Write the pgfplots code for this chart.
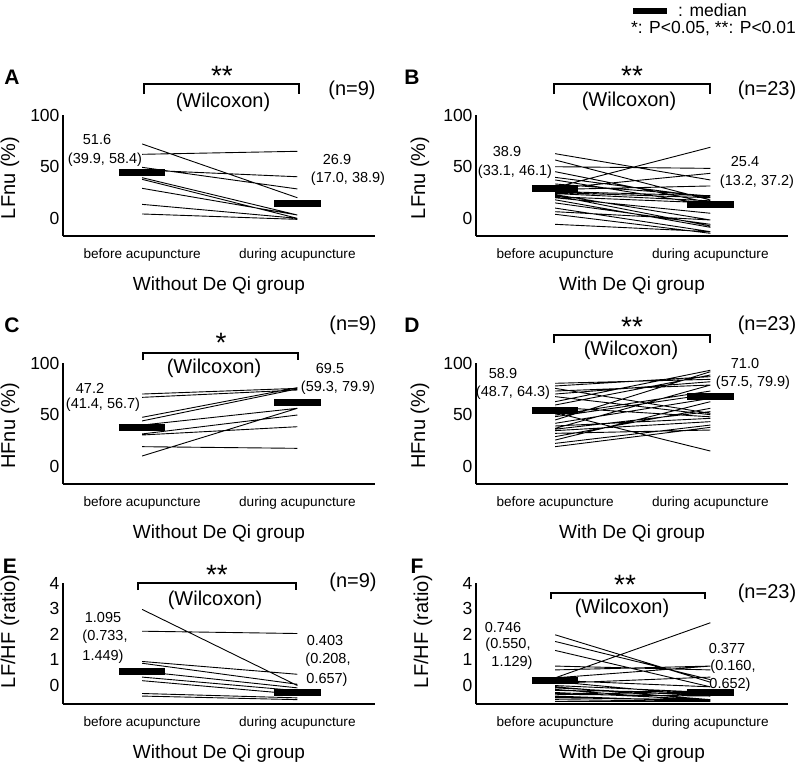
\documentclass[border=0pt]{standalone}
\usepackage{fontspec}
\setmainfont{Liberation Sans}
\usepackage{pgfplots}
\pgfplotsset{compat=1.18}
\newcommand{\fs}[1]{\fontsize{#1}{#1}\selectfont}
\pgfplotsset{
  panel/.style={
    scale only axis, width=312pt, height=121pt,
    xmin=0.49, xmax=2.5,
    axis x line=bottom, axis y line=left,
    axis line style={-, line width=2.6pt},
    major tick length=0pt,
    xtick={1,2}, xticklabels={before acupuncture, during acupuncture},
    xticklabel style={font=\fs{13.6}, anchor=base, yshift=-22pt},
    yticklabel style={font=\fs{17.5}},
    /pgf/number format/assume math mode=true,
    clip=false,
    unbounded coords=jump,
    every axis x label/.style={at={(axis description cs:0.5,0)}, anchor=base, yshift=-54pt, font=\fs{19}},
    every axis y label/.style={at={(axis description cs:-0.17,0.48)}, rotate=90, anchor=center, font=\fs{20}},
  },
  pct/.style={ymin=-17, ymax=100, ytick={0,50,100}},
  rat/.style={ymin=-0.72, ymax=4, ytick={0,1,2,3,4},
    every axis y label/.style={at={(axis description cs:-0.17,0.6)}, rotate=90, anchor=center, font=\fs{20}}},
  subj/.style={black, line width=0.9pt},
  med/.style={black, line width=7pt},
}
\tikzset{
  ann/.style={font=\fs{14.5}, anchor=center, inner sep=0pt},
  hd/.style={font=\fs{20}, anchor=center, inner sep=0pt},
  star/.style={font=\fs{28}, anchor=base, inner sep=0pt},
  letter/.style={font=\fs{21}\bfseries, anchor=center, inner sep=0pt},
  brk/.style={line width=2.4pt},
}
\begin{document}
\begin{tikzpicture}
\path[use as bounding box] (0,0) rectangle (800pt,-764pt);

% legend
\draw[line width=6pt] (633pt,-11pt) -- (667pt,-11pt);
\node[font=\fs{17.5}, anchor=west, inner sep=0pt] at (678pt,-10pt) {: median};
\node[font=\fs{17.5}, anchor=east, inner sep=0pt] at (796pt,-29pt) {*: P<0.05, **: P<0.01};

% ---------- A ----------
\begin{axis}[panel, pct, at={(63pt,-236pt)}, anchor=south west,
  xlabel={Without De Qi group}, ylabel={LFnu (\%)}]
\addplot[subj] coordinates {
(1,72.0) (2,20.0) (1.5,nan)
(1,62.0) (2,64.9) (1.5,nan)
(1,49.4) (2,28.5) (1.5,nan)
(1,46.8) (2,40.3) (1.5,nan)
(1,39.4) (2,3.3) (1.5,nan)
(1,37.8) (2,0.1) (1.5,nan)
(1,29.1) (2,3.3) (1.5,nan)
(1,13.6) (2,0.1) (1.5,nan)
(1,4.3) (2,-0.9)
};
\addplot[med] coordinates {(0.85,44.2) (1.15,44.2) (1.5,nan) (1.85,14.6) (2.15,14.6)};
\end{axis}
\node[letter] at (12pt,-77pt) {A};
\node[star] at (222pt,-85pt) {**};
\draw[brk] (144pt,-94pt) -- (144pt,-84pt) -- (299pt,-84pt) -- (299pt,-94pt);
\node[hd] at (223pt,-102pt) {(Wilcoxon)};
\node[hd] at (352pt,-90pt) {(n=9)};
\node[ann] at (97pt,-140pt) {51.6};
\node[ann] at (105pt,-160pt) {(39.9, 58.4)};
\node[ann] at (337pt,-160pt) {26.9};
\node[ann] at (348pt,-179pt) {(17.0, 38.9)};

% ---------- B ----------
\begin{axis}[panel, pct, at={(476pt,-236pt)}, anchor=south west,
  xlabel={With De Qi group}, ylabel={LFnu (\%)},
  every axis y label/.style={at={(axis description cs:-0.18,0.48)}, rotate=90, anchor=center, font=\fs{20}}]
\addplot[subj] coordinates {
(1,62.6) (2,37.2) (1.5,nan)
(1,56.5) (2,17.8) (1.5,nan)
(1,50.0) (2,48.4) (1.5,nan)
(1,45.2) (2,15.2) (1.5,nan)
(1,39.7) (2,20.4) (1.5,nan)
(1,37.2) (2,13.0) (1.5,nan)
(1,33.3) (2,21.7) (1.5,nan)
(1,30.0) (2,68.8) (1.5,nan)
(1,29.0) (2,43.6) (1.5,nan)
(1,28.0) (2,31.4) (1.5,nan)
(1,26.0) (2,22.0) (1.5,nan)
(1,25.0) (2,20.0) (1.5,nan)
(1,24.0) (2,17.0) (1.5,nan)
(1,23.0) (2,-1.5) (1.5,nan)
(1,22.0) (2,-7.3) (1.5,nan)
(1,21.0) (2,15.0) (1.5,nan)
(1,20.0) (2,5.0) (1.5,nan)
(1,18.0) (2,-8.6) (1.5,nan)
(1,15.0) (2,-5.7) (1.5,nan)
(1,10.0) (2,-12.8) (1.5,nan)
(1,6.5) (2,-1.5) (1.5,nan)
(1,4.0) (2,-14.4) (1.5,nan)
(1,-5.7) (2,-12.8)
};
\addplot[med] coordinates {(0.85,28.7) (1.15,28.7) (1.5,nan) (1.85,13.0) (2.15,13.0)};
\end{axis}
\node[letter] at (412pt,-77pt) {B};
\node[star] at (632pt,-85pt) {**};
\draw[brk] (554pt,-94pt) -- (554pt,-84pt) -- (710pt,-84pt) -- (710pt,-94pt);
\node[hd] at (629pt,-101pt) {(Wilcoxon)};
\node[hd] at (767pt,-90pt) {(n=23)};
\node[ann] at (507pt,-152pt) {38.9};
\node[ann] at (515pt,-172pt) {(33.1, 46.1)};
\node[ann] at (745pt,-162pt) {25.4};
\node[ann] at (757pt,-182pt) {(13.2, 37.2)};

% ---------- C ----------
\begin{axis}[panel, pct, at={(63pt,-484pt)}, anchor=south west,
  xlabel={Without De Qi group}, ylabel={HFnu (\%)}]
\addplot[subj] coordinates {
(1,70.0) (2,75.5) (1.5,nan)
(1,66.8) (2,73.9) (1.5,nan)
(1,47.5) (2,76.2) (1.5,nan)
(1,44.0) (2,75.0) (1.5,nan)
(1,40.0) (2,56.2) (1.5,nan)
(1,31.4) (2,49.7) (1.5,nan)
(1,30.4) (2,38.4) (1.5,nan)
(1,19.1) (2,17.5) (1.5,nan)
(1,10.1) (2,56.2)
};
\addplot[med] coordinates {(0.85,37.8) (1.15,37.8) (1.5,nan) (1.85,61.6) (2.15,61.6)};
\end{axis}
\node[letter] at (12pt,-325pt) {C};
\node[star] at (221pt,-352pt) {*};
\draw[brk] (143pt,-360pt) -- (143pt,-353pt) -- (298pt,-353pt) -- (298pt,-360pt);
\node[hd] at (214pt,-368pt) {(Wilcoxon)};
\node[hd] at (353pt,-325pt) {(n=9)};
\node[ann] at (90pt,-388pt) {47.2};
\node[ann] at (103pt,-405pt) {(41.4, 56.7)};
\node[ann] at (330pt,-368pt) {69.5};
\node[ann] at (338pt,-388pt) {(59.3, 79.9)};

% ---------- D ----------
\begin{axis}[panel, pct, at={(476pt,-484pt)}, anchor=south west,
  xlabel={With De Qi group}, ylabel={HFnu (\%)},
  every axis y label/.style={at={(axis description cs:-0.18,0.48)}, rotate=90, anchor=center, font=\fs{20}}]
\addplot[subj] coordinates {
(1,80.4) (2,84.2) (1.5,nan)
(1,77.8) (2,86.8) (1.5,nan)
(1,75.5) (2,51.3) (1.5,nan)
(1,72.9) (2,78.7) (1.5,nan)
(1,70.0) (2,81.9) (1.5,nan)
(1,67.5) (2,50.0) (1.5,nan)
(1,62.6) (2,93.0) (1.5,nan)
(1,59.4) (2,88.4) (1.5,nan)
(1,57.1) (2,48.0) (1.5,nan)
(1,52.0) (2,14.9) (1.5,nan)
(1,49.7) (2,72.9) (1.5,nan)
(1,48.1) (2,70.0) (1.5,nan)
(1,44.9) (2,91.6) (1.5,nan)
(1,41.7) (2,65.8) (1.5,nan)
(1,39.1) (2,46.5) (1.5,nan)
(1,36.8) (2,78.7) (1.5,nan)
(1,34.6) (2,43.3) (1.5,nan)
(1,32.0) (2,35.2) (1.5,nan)
(1,28.8) (2,56.2) (1.5,nan)
(1,25.5) (2,62.6) (1.5,nan)
(1,22.3) (2,40.0) (1.5,nan)
(1,19.1) (2,37.8) (1.5,nan)
(1,36.0) (2,53.0)
};
\addplot[med] coordinates {(0.85,53.6) (1.15,53.6) (1.5,nan) (1.85,67.8) (2.15,67.8)};
\end{axis}
\node[letter] at (412pt,-325pt) {D};
\node[star] at (632pt,-336pt) {**};
\draw[brk] (554pt,-343pt) -- (554pt,-335pt) -- (710pt,-335pt) -- (710pt,-343pt);
\node[hd] at (631pt,-350pt) {(Wilcoxon)};
\node[hd] at (767pt,-325pt) {(n=23)};
\node[ann] at (503pt,-373pt) {58.9};
\node[ann] at (513pt,-393pt) {(48.7, 64.3)};
\node[ann] at (745pt,-363pt) {71.0};
\node[ann] at (753pt,-383pt) {(57.5, 79.9)};

% ---------- E ----------
\begin{axis}[panel, rat, at={(63pt,-704pt)}, anchor=south west,
  xlabel={Without De Qi group}, ylabel={LF/HF (ratio)}]
\addplot[subj] coordinates {
(1,2.97) (2,0.00) (1.5,nan)
(1,2.12) (2,2.03) (1.5,nan)
(1,0.94) (2,0.44) (1.5,nan)
(1,0.87) (2,0.05) (1.5,nan)
(1,0.55) (2,-0.09) (1.5,nan)
(1,0.33) (2,-0.20) (1.5,nan)
(1,0.19) (2,-0.34) (1.5,nan)
(1,-0.31) (2,-0.48) (1.5,nan)
(1,-0.41) (2,-0.55)
};
\addplot[med] coordinates {(0.85,0.55) (1.15,0.55) (1.5,nan) (1.85,-0.26) (2.15,-0.26)};
\end{axis}
\node[letter] at (10pt,-566pt) {E};
\node[star] at (217pt,-584pt) {**};
\draw[brk] (138pt,-590pt) -- (138pt,-583pt) -- (296pt,-583pt) -- (296pt,-590pt);
\node[hd] at (215pt,-600pt) {(Wilcoxon)};
\node[hd] at (353pt,-582pt) {(n=9)};
\node[ann] at (103pt,-617pt) {1.095};
\node[ann] at (105pt,-637pt) {(0.733,};
\node[ann] at (103pt,-657pt) {1.449)};
\node[ann] at (325pt,-640pt) {0.403};
\node[ann] at (328pt,-660pt) {(0.208,};
\node[ann] at (327pt,-680pt) {0.657)};

% ---------- F ----------
\begin{axis}[panel, rat, at={(476pt,-704pt)}, anchor=south west,
  xlabel={With De Qi group}, ylabel={LF/HF (ratio)}]
\addplot[subj] coordinates {
(1,1.98) (2,0.13) (1.5,nan)
(1,1.72) (2,0.23) (1.5,nan)
(1,1.37) (2,-0.05) (1.5,nan)
(1,0.76) (2,0.61) (1.5,nan)
(1,0.30) (2,0.76) (1.5,nan)
(1,0.30) (2,2.45) (1.5,nan)
(1,0.61) (2,0.76) (1.5,nan)
(1,0.09) (2,0.33) (1.5,nan)
(1,0.00) (2,-0.27) (1.5,nan)
(1,-0.09) (2,-0.41) (1.5,nan)
(1,-0.19) (2,-0.27) (1.5,nan)
(1,-0.27) (2,-0.55) (1.5,nan)
(1,-0.34) (2,-0.41) (1.5,nan)
(1,-0.41) (2,-0.62) (1.5,nan)
(1,-0.48) (2,-0.55) (1.5,nan)
(1,-0.55) (2,-0.62) (1.5,nan)
(1,-0.62) (2,-0.62) (1.5,nan)
(1,0.20) (2,-0.05) (1.5,nan)
(1,0.15) (2,-0.41) (1.5,nan)
(1,-0.05) (2,-0.55) (1.5,nan)
(1,-0.15) (2,-0.62) (1.5,nan)
(1,-0.30) (2,-0.30) (1.5,nan)
(1,-0.45) (2,-0.60)
};
\addplot[med] coordinates {(0.85,0.19) (1.15,0.19) (1.5,nan) (1.85,-0.26) (2.15,-0.26)};
\end{axis}
\node[letter] at (417pt,-566pt) {F};
\node[star] at (625pt,-594pt) {**};
\draw[brk] (551pt,-599pt) -- (551pt,-593pt) -- (705pt,-593pt) -- (705pt,-599pt);
\node[hd] at (622pt,-608pt) {(Wilcoxon)};
\node[hd] at (767pt,-593pt) {(n=23)};
\node[ann] at (503pt,-627pt) {0.746};
\node[ann] at (508pt,-645pt) {(0.550,};
\node[ann] at (512pt,-663pt) {1.129)};
\node[ann] at (727pt,-648pt) {0.377};
\node[ann] at (733pt,-667pt) {(0.160,};
\node[ann] at (730pt,-685pt) {0.652)};
\end{tikzpicture}
\end{document}
